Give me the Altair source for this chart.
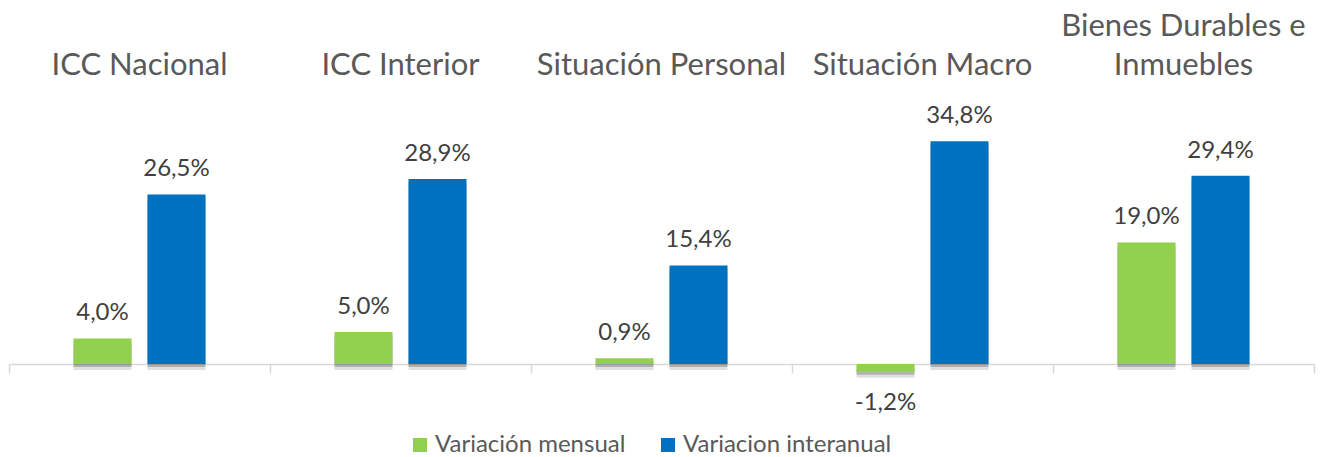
import altair as alt
import pandas as pd

categories = ["ICC Nacional", "ICC Interior", "Situación Personal", "Situación Macro", "Bienes Durables e Inmuebles"]
series = ["Variación mensual", "Variacion interanual"]
mensual = [4.0, 5.0, 0.9, -1.2, 19.0]
interanual = [26.5, 28.9, 15.4, 34.8, 29.4]
colors = ["#92D050", "#0070C0"]

rows = []
for c, m, i in zip(categories, mensual, interanual):
    rows.append({"cat": c, "serie": series[0], "valor": m})
    rows.append({"cat": c, "serie": series[1], "valor": i})
df = pd.DataFrame(rows)

FONT = "Lato"

x_scale = alt.Scale(paddingInner=0, paddingOuter=0)
bottom_axis = alt.Axis(orient="bottom", labels=False, title=None, domainColor="#d9d9d9",
                       domainWidth=1.5, tickColor="#d9d9d9", tickWidth=1.5, tickSize=9,
                       tickBand="extent")
top_axis = alt.Axis(orient="top", domain=False, ticks=False, title=None, labelAngle=0,
                    labelFont=FONT, labelFontSize=31, labelColor="#595959",
                    labelPadding=66, labelLimit=0, labelLineHeight=39,
                    labelExpr="datum.label == 'Bienes Durables e Inmuebles' ? ['Bienes Durables e', 'Inmuebles'] : ['', datum.label]")

xoff = alt.XOffset("serie:N", sort=series, scale=alt.Scale(paddingInner=0.216, paddingOuter=0.8716))
y_enc = alt.Y("valor:Q", scale=alt.Scale(domain=[0, 40]), axis=None)

base = alt.Chart(df)

shadow1 = base.mark_bar(color="#000000", opacity=0.2, yOffset=3).encode(
    x=alt.X("cat:N", sort=categories, scale=x_scale, axis=bottom_axis),
    xOffset=xoff, y=y_enc)
shadow2 = base.mark_bar(color="#000000", opacity=0.12, yOffset=6).encode(
    x=alt.X("cat:N", sort=categories, scale=x_scale, axis=None),
    xOffset=xoff, y=y_enc)

bars = base.mark_bar().encode(
    x=alt.X("cat:N", sort=categories, scale=x_scale, axis=top_axis),
    xOffset=xoff, y=y_enc,
    color=alt.Color("serie:N", sort=series, scale=alt.Scale(domain=series, range=colors),
                    legend=alt.Legend(orient="none", legendX=399, legendY=325, direction="horizontal",
                                      title=None, symbolType="square", symbolSize=196,
                                      labelFont=FONT, labelFontSize=24, labelColor="#595959",
                                      labelLimit=0, columnPadding=30, labelOffset=3,
                                      symbolStrokeWidth=0, symbolOpacity=1)))

lbl = "(datum.valor < 0 ? '-' : '') + replace(format(abs(datum.valor), '.1f'), '.', ',') + '%'"
pos = base.transform_filter("datum.valor >= 0").transform_calculate(lbl=lbl).mark_text(
    font=FONT, fontSize=24, color="#404040", baseline="alphabetic", dy=-18).encode(
    x=alt.X("cat:N", sort=categories, scale=x_scale, axis=None),
    xOffset=xoff, y=y_enc, text="lbl:N")
neg = base.transform_filter("datum.valor < 0").transform_calculate(lbl=lbl).mark_text(
    font=FONT, fontSize=24, color="#404040", baseline="top", dy=19).encode(
    x=alt.X("cat:N", sort=categories, scale=x_scale, axis=None),
    xOffset=xoff, y=y_enc, text="lbl:N")

chart = alt.layer(shadow1, shadow2, bars, pos, neg).resolve_axis(x="independent").properties(
    width=1305, height=256, autosize="none",
    padding={"left": 1, "top": 100, "right": 2, "bottom": 93},
).configure_view(stroke=None)

chart.save("out.html", embed_options={"renderer": "svg", "actions": False})
